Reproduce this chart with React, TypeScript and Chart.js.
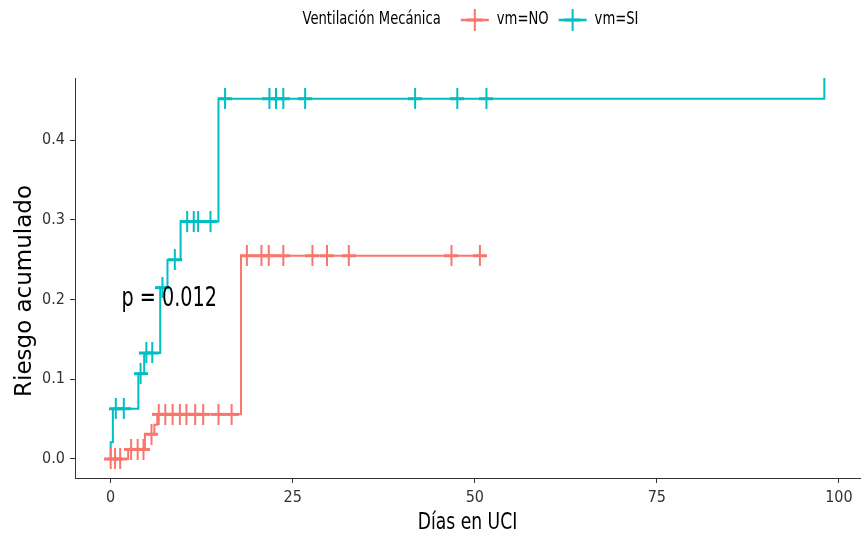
import { useEffect, useRef } from 'react';
import { Chart, registerables } from 'chart.js';

Chart.register(...registerables);

// ---------- data ----------
const xTicks = [0, 25, 50, 75, 100];
const yTicks = [0, 0.1, 0.2, 0.3, 0.4];
const groupLabels = ['vm=NO', 'vm=SI'];
const groupColors = ['#F8766D', '#00BFC4'];
const legendTitle = 'Ventilación Mecánica';
const xTitle = 'Días en UCI';
const yTitle = 'Riesgo acumulado';
const pLabel = 'p = 0.012';
const pPos = [1.5, 0.2];

// vm=NO step curve (time, cumulative risk)
const noTimes = [0, 2.4, 4.7, 6.0, 6.4, 17.9, 51.3];
const noRisk = [0, 0.012, 0.031, 0.043, 0.056, 0.255, 0.255];
const noCensor = [0, 0.6, 1.3, 2.8, 3.7, 4.5, 5.6, 6.6, 7.5, 8.5, 9.5, 10.4, 11.6, 12.7, 14.8, 16.6, 18.7, 20.7, 21.7, 23.7, 27.7, 29.7, 32.7, 46.8, 50.7];

// vm=SI step curve
const siTimes = [0, 0, 0.3, 3.8, 4.6, 6.8, 7.8, 9.6, 14.8, 98];
const siRisk = [0, 0.021, 0.063, 0.107, 0.133, 0.215, 0.25, 0.298, 0.452, 1];
const siCensor = [0.7, 1.8, 4.1, 4.9, 5.7, 7.1, 8.8, 10.5, 11.4, 12.0, 13.7, 15.7, 21.8, 22.7, 23.7, 26.7, 41.8, 47.6, 51.6];

const xRange = [-4.9, 102.9];
const yRange = [-0.0239, 0.478];

const NARROW = '"Liberation Sans Narrow", "DejaVu Sans Condensed", "Liberation Sans", Arial, sans-serif';
const WIDE = '"DejaVu Sans", "Liberation Sans", Arial, sans-serif';

function stepAt(times: number[], risks: number[], t: number) {
  let v = risks[0];
  for (let i = 0; i < times.length; i++) if (times[i] <= t) v = risks[i];
  return v;
}

function makeCross(color: string) {
  const w = 14, h = 21;
  const c = document.createElement('canvas');
  c.width = w; c.height = h;
  const g = c.getContext('2d')!;
  g.strokeStyle = color;
  g.lineWidth = 2;
  g.beginPath(); g.moveTo(w / 2, 0); g.lineTo(w / 2, h); g.stroke();
  g.lineWidth = 3;
  g.beginPath(); g.moveTo(0, Math.floor(h / 2) + 0.5); g.lineTo(w, Math.floor(h / 2) + 0.5); g.stroke();
  return c;
}

const legendPlugin = {
  id: 'kmLegend',
  afterDraw(chart: any) {
    const ctx = chart.ctx as CanvasRenderingContext2D;
    const { left, right } = chart.chartArea;
    const sx = 0.86;
    ctx.save();
    ctx.font = `17px ${NARROW}`;
    ctx.textBaseline = 'middle';
    const y = 20;
    const keyW = 28, gapTitle = 20, gapKey = 8, gapItem = 10;
    const titleW = ctx.measureText(legendTitle).width * sx;
    const itemWs = groupLabels.map((l) => ctx.measureText(l).width * sx);
    const total = titleW + gapTitle + itemWs.reduce((a, w) => a + keyW + gapKey + w, 0) + gapItem * (groupLabels.length - 1);
    let x = (left + right) / 2 - total / 2 + 3;
    const text = (s: string, tx: number) => {
      ctx.save();
      ctx.translate(tx, y);
      ctx.scale(sx, 1);
      ctx.fillStyle = '#000';
      ctx.textAlign = 'left';
      ctx.fillText(s, 0, 0);
      ctx.restore();
    };
    text(legendTitle, x);
    x += titleW + gapTitle;
    groupLabels.forEach((lab, i) => {
      ctx.strokeStyle = groupColors[i];
      ctx.lineWidth = 2.5;
      ctx.beginPath(); ctx.moveTo(x, y); ctx.lineTo(x + keyW, y); ctx.stroke();
      ctx.lineWidth = 2;
      ctx.beginPath(); ctx.moveTo(x + keyW / 2, y - 11); ctx.lineTo(x + keyW / 2, y + 11); ctx.stroke();
      ctx.lineWidth = 3;
      ctx.beginPath(); ctx.moveTo(x + keyW / 2 - 8, y); ctx.lineTo(x + keyW / 2 + 8, y); ctx.stroke();
      x += keyW + gapKey;
      text(lab, x);
      x += itemWs[i] + gapItem;
    });
    ctx.restore();
  },
};

const textPlugin = {
  id: 'extraText',
  afterDatasetsDraw(chart: any) {
    const ctx = chart.ctx as CanvasRenderingContext2D;
    const xs = chart.scales.x, ys = chart.scales.y;
    const { top, bottom, left, right } = chart.chartArea;
    // p-value annotation at data coordinates
    ctx.save();
    ctx.translate(xs.getPixelForValue(pPos[0]), ys.getPixelForValue(pPos[1]));
    ctx.scale(0.82, 1);
    ctx.font = `26px ${NARROW}`;
    ctx.fillStyle = '#000';
    ctx.textAlign = 'left';
    ctx.textBaseline = 'middle';
    ctx.fillText(pLabel, 0, 0);
    ctx.restore();
    // x axis title
    ctx.save();
    ctx.translate((left + right) / 2, 523);
    ctx.scale(0.83, 1);
    ctx.font = `23px ${NARROW}`;
    ctx.fillStyle = '#000';
    ctx.textAlign = 'center';
    ctx.textBaseline = 'middle';
    ctx.fillText(xTitle, 0, 0);
    ctx.restore();
    // y axis title
    ctx.save();
    ctx.translate(25, (top + bottom) / 2 + 13);
    ctx.rotate(-Math.PI / 2);
    ctx.font = `23px ${WIDE}`;
    ctx.fillStyle = '#000';
    ctx.textAlign = 'center';
    ctx.textBaseline = 'middle';
    ctx.fillText(yTitle, 0, 0);
    ctx.restore();
  },
};

export default function App() {
  const ref = useRef<HTMLCanvasElement>(null);
  useEffect(() => {
    document.body.style.margin = '0';
    const crossNo = makeCross(groupColors[0]);
    const crossSi = makeCross(groupColors[1]);
    const chart = new Chart(ref.current!, {
      type: 'scatter',
      data: {
        datasets: [
          {
            label: groupLabels[1] + ' censor',
            data: siCensor.map((t) => ({ x: t, y: stepAt(siTimes, siRisk, t) })),
            pointStyle: crossSi as any,
            pointRadius: 7,
            showLine: false,
          },
          {
            label: groupLabels[0] + ' censor',
            data: noCensor.map((t) => ({ x: t, y: stepAt(noTimes, noRisk, t) })),
            pointStyle: crossNo as any,
            pointRadius: 7,
            showLine: false,
          },
          {
            type: 'line',
            label: groupLabels[1],
            data: siTimes.map((t, i) => ({ x: t, y: siRisk[i] })),
            stepped: 'before',
            borderColor: groupColors[1],
            borderWidth: 2,
            pointRadius: 0,
            fill: false,
          } as any,
          {
            type: 'line',
            label: groupLabels[0],
            data: noTimes.map((t, i) => ({ x: t, y: noRisk[i] })),
            stepped: 'before',
            borderColor: groupColors[0],
            borderWidth: 2,
            pointRadius: 0,
            fill: false,
          } as any,
        ],
      },
      options: {
        animation: false,
        responsive: false,
        layout: { padding: { top: 78, right: 8, left: 0, bottom: 0 } },
        plugins: { legend: { display: false }, tooltip: { enabled: false } },
        scales: {
          x: {
            type: 'linear',
            min: xRange[0],
            max: xRange[1],
            afterBuildTicks: (s: any) => { s.ticks = xTicks.map((v) => ({ value: v })); },
            afterFit: (s: any) => { s.height = 70; },
            ticks: { font: { family: NARROW, size: 16 }, color: '#333', padding: 5, callback: (v: any) => String(v) },
            grid: { drawOnChartArea: false, drawTicks: true, tickLength: 5, color: '#333', lineWidth: 1 },
            border: { display: true, color: '#333', width: 1 },
            title: { display: false, text: xTitle },
          },
          y: {
            type: 'linear',
            min: yRange[0],
            max: yRange[1],
            afterBuildTicks: (s: any) => { s.ticks = yTicks.map((v) => ({ value: v })); },
            afterFit: (s: any) => { s.width = 75; },
            ticks: { font: { family: NARROW, size: 16 }, color: '#333', padding: 5, callback: (v: any) => Number(v).toFixed(1) },
            grid: { drawOnChartArea: false, drawTicks: true, tickLength: 5, color: '#333', lineWidth: 1 },
            border: { display: true, color: '#333', width: 1 },
            title: { display: false, text: yTitle },
          },
        },
      },
      plugins: [legendPlugin, textPlugin],
    });
    return () => chart.destroy();
  }, []);
  return (
    <div style={{ width: 868, height: 548 }}>
      <canvas ref={ref} width={868} height={548} />
    </div>
  );
}
